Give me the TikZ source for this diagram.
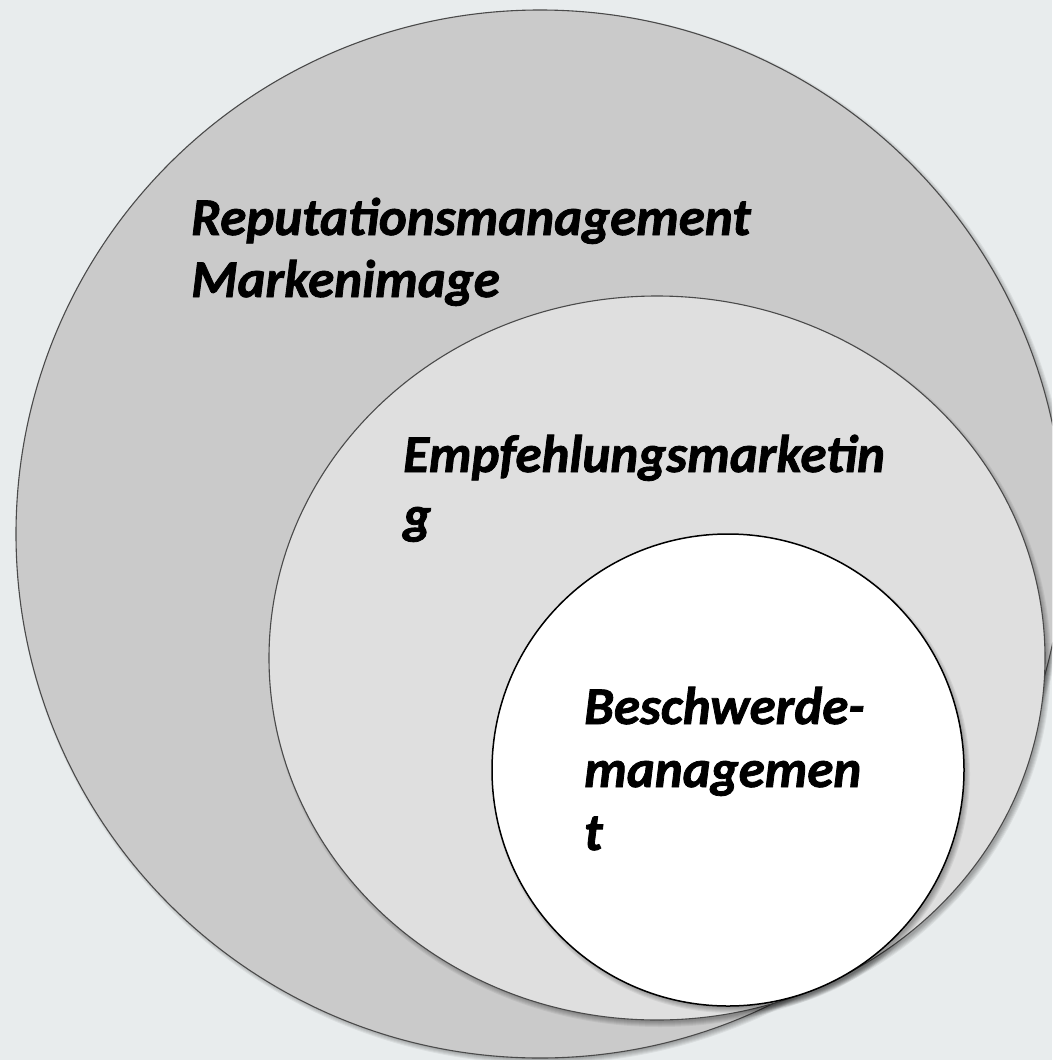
\documentclass[tikz,border=0pt]{standalone}
\usepackage{fontspec}
\setmainfont{Carlito}[BoldItalicFeatures={FakeBold=1.5}]
\definecolor{bgc}{HTML}{E8ECED}
\definecolor{outerfill}{HTML}{CACACA}
\definecolor{midfill}{HTML}{DFDFDF}
\definecolor{edgegray}{HTML}{4A4A4A}
\begin{document}
\begin{tikzpicture}[x=1pt,y=-1pt,
  lbl/.style={anchor=base west, inner sep=0pt, text=black,
    font=\fontsize{53}{62}\selectfont\bfseries\itshape},
  ring/.style={line width=1.1pt, draw=edgegray},
  shade/.style={fill=black, opacity=0.06}
]
\useasboundingbox (0,0) rectangle (1052,1060);
\clip (0,0) rectangle (1052,1060);
\fill[bgc] (0,0) rectangle (1052,1060);

% outer circle
\foreach \k in {0,...,5}
  \fill[shade] (543,537) circle[radius=522+\k];
\filldraw[ring, fill=outerfill] (540,534) circle[radius=524];

% middle ellipse
\foreach \k in {0,...,5}
  \fill[shade] (660,662) ellipse[x radius=386+\k, y radius=360+\k];
\filldraw[ring, fill=midfill] (657,658) ellipse[x radius=388, y radius=362];

% inner circle
\foreach \k in {0,...,5}
  \fill[shade] (731,774) circle[radius=234+\k];
\filldraw[line width=1.5pt, draw=black, fill=white] (728,770) circle[radius=236];

\node[lbl] (rep)  at (191,235) {Reputationsmanagement};
\node[lbl] (mark) at (191,297) {Markenimage};
\node[lbl] (emp)  at (403,472) {Empfehlungsmarketin};
\node[lbl] (empg) at (403,533) {g};
\node[lbl] (bes)  at (584,724) {Beschwerde-};
\node[lbl] (man)  at (584,787) {managemen};
\node[lbl] (bt)   at (584,850) {t};
\end{tikzpicture}
\end{document}
